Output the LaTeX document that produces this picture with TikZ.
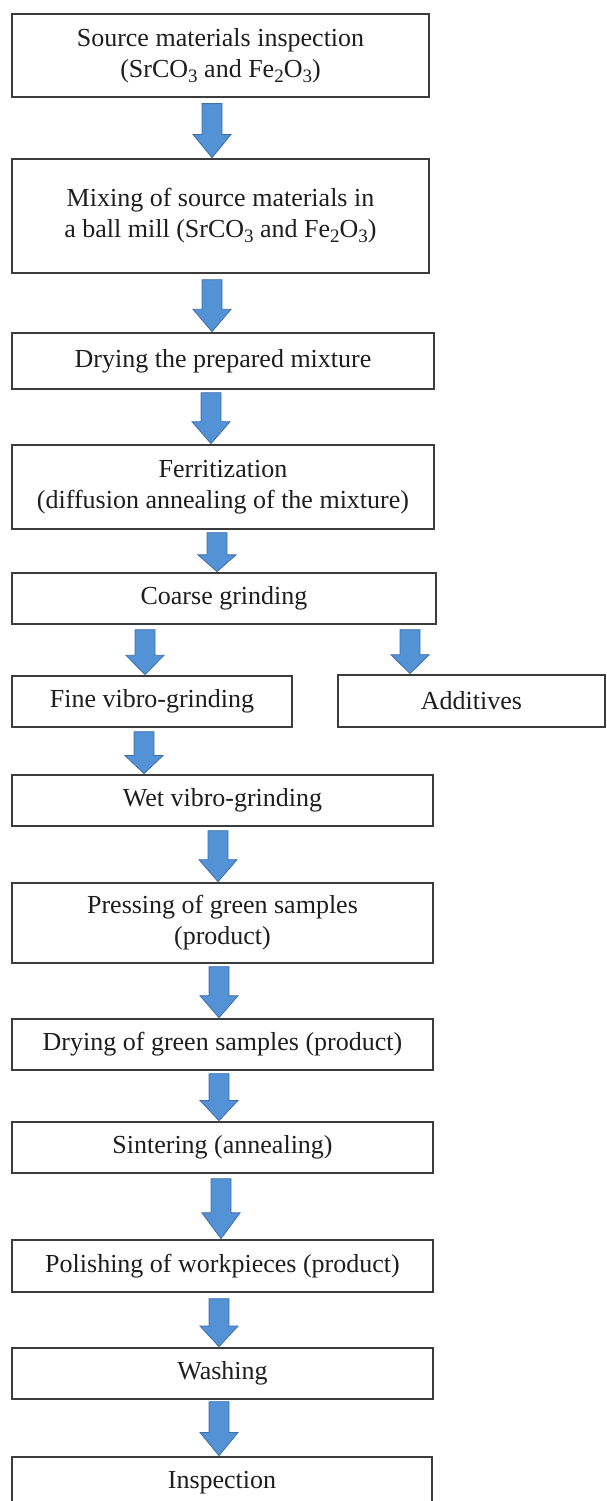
\documentclass[tikz,border=0pt]{standalone}
\usepackage{fontspec}
\setmainfont{Liberation Serif}
\usetikzlibrary{calc}
\definecolor{boxline}{RGB}{60,60,60}
\definecolor{txt}{RGB}{30,30,30}
\definecolor{arrfill}{RGB}{84,146,214}
\definecolor{arrline}{RGB}{62,110,168}
\newcommand\chemsub[1]{\raisebox{-0.4ex}{\fontsize{19}{19}\selectfont #1}}
\tikzset{
  stepbox/.style={draw=boxline, line width=1.3pt, fill=white, inner sep=0pt,
    align=center, text=txt, font=\fontsize{26}{31}\selectfont},
  blockarrow/.style={fill=arrfill, draw=arrline, line width=0.8pt, line join=miter}
}
% #1 source node, #2 target node, #3 x position (pt), #4 gap below source (pt)
\newcommand\flowarrow[4]{%
  \path[blockarrow] let \p1=(#1.south), \p2=(#2.north),
      \n1={\y1-#4pt}, \n2={\y2+0.7pt}, \n3={(\n1-\n2)*0.43} in
    ({#3pt-10pt},\n1) -- ({#3pt+10pt},\n1) -- ({#3pt+10pt},{\n2+\n3})
    -- ({#3pt+19pt},{\n2+\n3}) -- ({#3pt},\n2) -- ({#3pt-19pt},{\n2+\n3})
    -- ({#3pt-10pt},{\n2+\n3}) -- cycle;}
\begin{document}
\begin{tikzpicture}[x=1pt,y=-1pt]
\useasboundingbox (0,0) rectangle (607,1501);
\clip (0,0) rectangle (607,1501);
\node[stepbox, minimum width=417, minimum height=83] (b1) at (220.5,55.5)
  {Source materials inspection\\(SrCO\chemsub{3} and Fe\chemsub{2}O\chemsub{3})};
\node[stepbox, minimum width=417, minimum height=114] (b2) at (220.5,216)
  {Mixing of source materials in\\a ball mill (SrCO\chemsub{3} and Fe\chemsub{2}O\chemsub{3})};
\node[stepbox, minimum width=422, minimum height=56] (b3) at (223,361)
  {Drying the prepared mixture};
\node[stepbox, minimum width=422, minimum height=84] (b4) at (223,487)
  {Ferritization\\(diffusion annealing of the mixture)};
\node[stepbox, minimum width=424, minimum height=51] (b5) at (224,598.5)
  {Coarse grinding};
\node[stepbox, minimum width=280, minimum height=51] (b6) at (152,701.5)
  {Fine vibro-grinding};
\node[stepbox, minimum width=267, minimum height=52] (b7) at (471.5,701)
  {Additives};
\node[stepbox, minimum width=421, minimum height=51] (b8) at (222.5,800.5)
  {Wet vibro-grinding};
\node[stepbox, minimum width=421, minimum height=80] (b9) at (222.5,923)
  {Pressing of green samples\\(product)};
\node[stepbox, minimum width=421, minimum height=51] (b10) at (222.5,1044.5)
  {Drying of green samples (product)};
\node[stepbox, minimum width=421, minimum height=51] (b11) at (222.5,1147.5)
  {Sintering (annealing)};
\node[stepbox, minimum width=421, minimum height=52] (b12) at (222.5,1266)
  {Polishing of workpieces (product)};
\node[stepbox, minimum width=421, minimum height=51] (b13) at (222.5,1373.5)
  {Washing};
\node[stepbox, minimum width=420, minimum height=51] (b14) at (222,1482.5)
  {Inspection};
\flowarrow{b1}{b2}{212}{6}
\flowarrow{b2}{b3}{212}{6}
\flowarrow{b3}{b4}{211}{3}
\flowarrow{b4}{b5}{217}{3}
\flowarrow{b5}{b6}{145}{5}
\flowarrow{b5}{b7}{410}{5}
\flowarrow{b6}{b8}{144}{4}
\flowarrow{b8}{b9}{218}{4}
\flowarrow{b9}{b10}{219}{3}
\flowarrow{b10}{b11}{219}{3}
\flowarrow{b11}{b12}{221}{5}
\flowarrow{b12}{b13}{219}{6}
\flowarrow{b13}{b14}{219}{2}
\end{tikzpicture}
\end{document}
